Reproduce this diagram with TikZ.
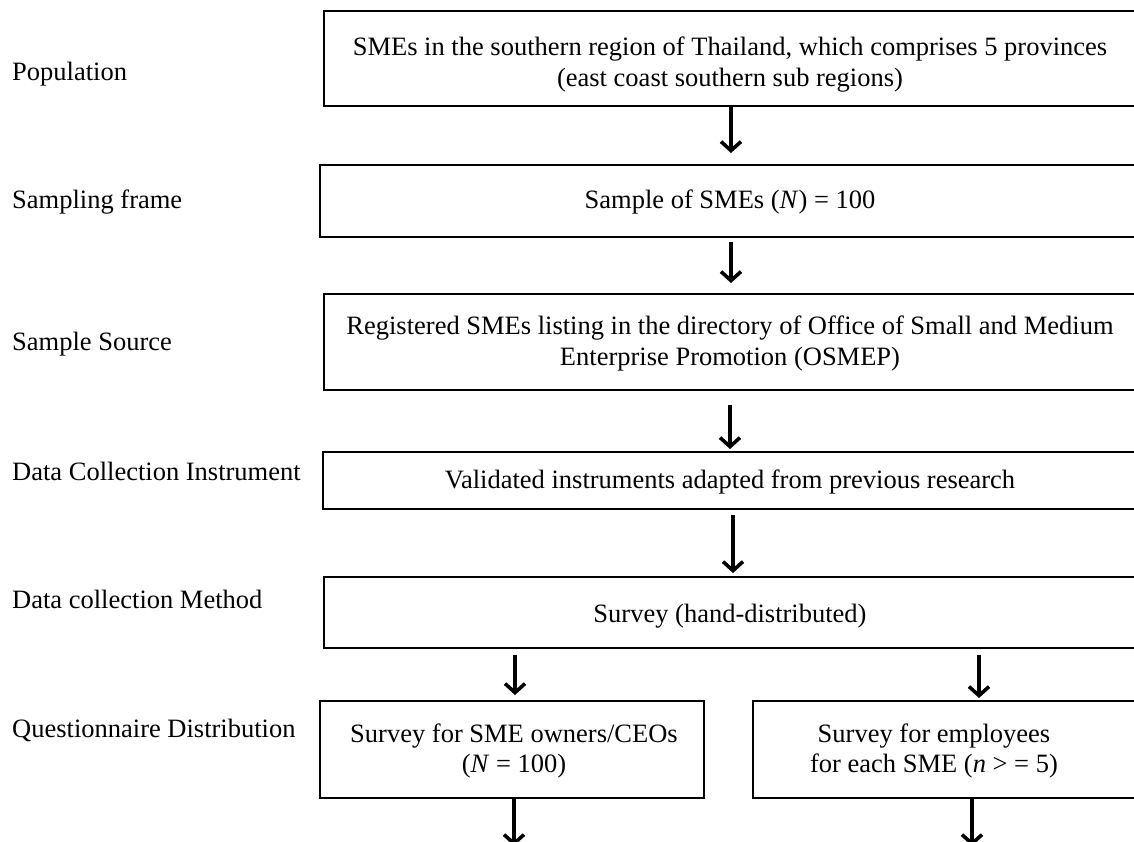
\documentclass[tikz,border=0pt]{standalone}
\usepackage{fontspec}
\setmainfont{Liberation Serif}
\usetikzlibrary{arrows.meta}
\begin{document}
\begin{tikzpicture}[x=1pt,y=-1pt,
  box/.style={draw, line width=1.8pt, rectangle, inner sep=0pt, anchor=north west},
  txt/.style={font=\fontsize{26.5}{31}\selectfont, inner sep=0pt, anchor=base},
  lbl/.style={txt, anchor=base west},
  arr/.style={line width=3.6pt, -{Straight Barb[length=9pt,width=20pt]}}]
\useasboundingbox (0,0) rectangle (1134,841);

% stage labels
\node[lbl] (l1) at (12,80)  {Population};
\node[lbl] (l2) at (12,208) {Sampling frame};
\node[lbl] (l3) at (12,350) {Sample Source};
\node[lbl] (l4) at (12,480) {Data Collection Instrument};
\node[lbl] (l5) at (12,608) {Data collection Method};
\node[lbl] (l6) at (12,737) {Questionnaire Distribution};

% boxes
\node[box, minimum width=814, minimum height=95] (b1) at (323,10) {};
\node[box, minimum width=818, minimum height=72] (b2) at (319,164) {};
\node[box, minimum width=814, minimum height=96] (b3) at (323,293) {};
\node[box, minimum width=815, minimum height=57] (b4) at (322,451) {};
\node[box, minimum width=814, minimum height=71] (b5) at (323,576) {};
\node[box, minimum width=384, minimum height=97] (b6) at (319,700) {};
\node[box, minimum width=388, minimum height=97] (b7) at (752,700) {};

% box texts
\node[txt] (t1a) at (730,55) {SMEs in the southern region of Thailand, which comprises 5 provinces};
\node[txt] (t1b) at (730,86) {(east coast southern sub regions)};
\node[txt] (t2)  at (730,208) {Sample of SMEs (\textit{N}) = 100};
\node[txt] (t3a) at (730,334) {Registered SMEs listing in the directory of Office of Small and Medium};
\node[txt] (t3b) at (730,365) {Enterprise Promotion (OSMEP)};
\node[txt] (t4)  at (730,488) {Validated instruments adapted from previous research};
\node[txt] (t5)  at (730,622) {Survey (hand-distributed)};
\node[txt] (t6a) at (514,742) {Survey for SME owners/CEOs};
\node[txt] (t6b) at (514,772) {(\textit{N} = 100)};
\node[txt] (t7a) at (934,742) {Survey for employees};
\node[txt] (t7b) at (934,772) {for each SME (\textit{n} > = 5)};

% free ends of the last arrows
\coordinate (e6) at (514,846);
\coordinate (e7) at (972,846);

% arrows
\draw[arr, shorten >=11pt] (b1.south -| 731,0) -- (b2.north -| 731,0);
\draw[arr, shorten <=4pt, shorten >=10pt] (b2.south -| 731,0) -- (b3.north -| 731,0);
\draw[arr, shorten <=14pt, shorten >=2pt] (b3.south -| 730,0) -- (b4.north -| 730,0);
\draw[arr, shorten <=5pt, shorten >=3pt] (b4.south -| 733,0) -- (b5.north -| 733,0);
\draw[arr, shorten <=6pt, shorten >=5pt] (b5.south -| 515,0) -- (b6.north -| 515,0);
\draw[arr, shorten <=6pt, shorten >=2pt] (b5.south -| 979,0) -- (b7.north -| 979,0);
\draw[arr] (b6.south -| e6) -- (e6);
\draw[arr] (b7.south -| e7) -- (e7);
\end{tikzpicture}
\end{document}
